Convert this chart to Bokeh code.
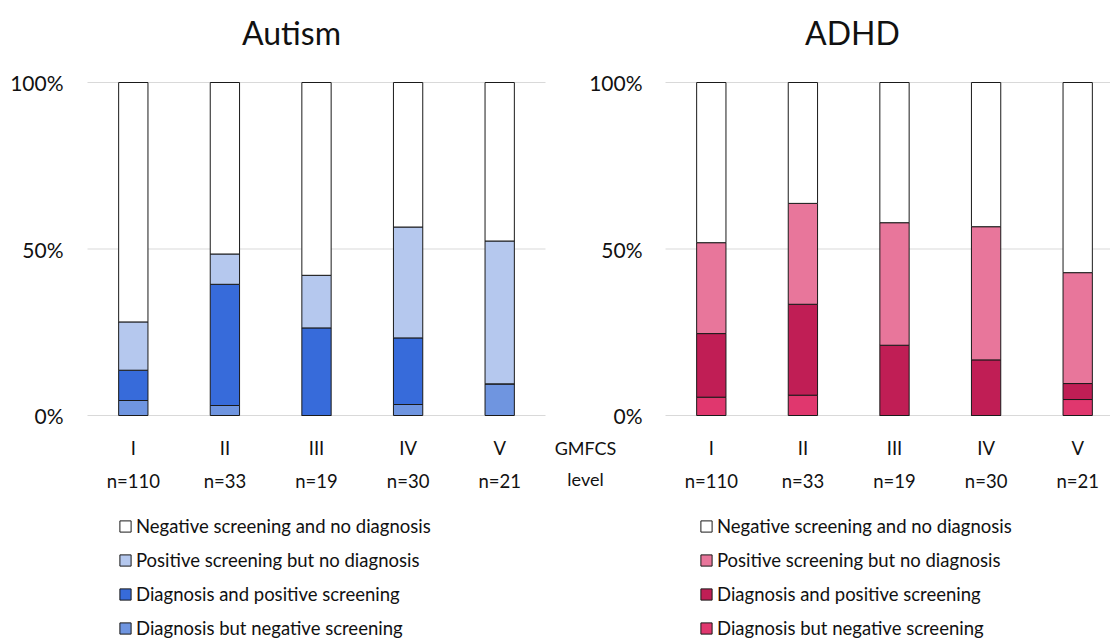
from bokeh.plotting import figure
from bokeh.models import Range1d, Legend, LegendItem, ColumnDataSource
from bokeh.embed import file_html
from bokeh.resources import INLINE
from bokeh.core.properties import value

# ---------------- data ----------------
levels = ["I", "II", "III", "IV", "V"]
n_labels = ["n=110", "n=33", "n=19", "n=30", "n=21"]
panel_titles = ["Autism", "ADHD"]
series_names = ["Negative screening and no diagnosis",
                "Positive screening but no diagnosis",
                "Diagnosis and positive screening",
                "Diagnosis but negative screening"]
y_ticks = [0, 0.5, 1]
y_tick_labels = ["0%", "50%", "100%"]
axis_title = ["GMFCS", "level"]

# percentages per GMFCS level
autism_neg_nodiag = [71.9, 51.5, 57.9, 43.4, 47.6]
autism_pos_nodiag = [14.5, 9.1, 15.8, 33.3, 42.9]
autism_diag_pos = [9.1, 36.4, 26.3, 20.0, 0.0]
autism_diag_neg = [4.5, 3.0, 0.0, 3.3, 9.5]

adhd_neg_nodiag = [48.1, 36.3, 42.1, 43.3, 57.1]
adhd_pos_nodiag = [27.3, 30.3, 36.8, 40.0, 33.3]
adhd_diag_pos = [19.1, 27.3, 21.1, 16.7, 4.8]
adhd_diag_neg = [5.5, 6.1, 0.0, 0.0, 4.8]

autism_colors = ["#FFFFFF", "#B5C8EE", "#376BDA", "#6F95E0"]
adhd_colors = ["#FFFFFF", "#E8769B", "#C01E55", "#E0376E"]

# ---------------- layout constants ----------------
FONT = "Lato"
TXT = "#111111"
W, H = 1110, 641
PX = 91.6          # pixels per category slot
PY = 333.0         # pixels per 100 %
ORIGIN_X = 87      # left panel category 0 from canvas left
ORIGIN_Y = 415     # 0 % line from canvas top
RIGHT_OFFSET = (665 - 87) / PX  # right panel start in slot units

x_start = -ORIGIN_X / PX
y_end = ORIGIN_Y / PY
p = figure(width=W, height=H, output_backend="svg", toolbar_location=None,
           x_range=Range1d(x_start, x_start + W / PX),
           y_range=Range1d(y_end - H / PY, y_end),
           x_axis_type=None, y_axis_type=None,
           min_border=0, min_border_left=0, min_border_right=0,
           min_border_top=0, min_border_bottom=0)
p.outline_line_color = None
p.background_fill_color = "white"
p.border_fill_color = "white"
p.title.visible = False


def panel(offset, neg, pos, dpos, dneg, colors, tick_right_px, legend_left_px):
    xs = [offset + i + 0.5 for i in range(len(levels))]
    # gridlines
    p.segment(x0=[offset] * len(y_ticks), x1=[offset + len(levels)] * len(y_ticks),
              y0=y_ticks, y1=y_ticks, line_color="#D9D9D9", line_width=1)
    src = ColumnDataSource(dict(
        x=xs,
        dneg=[v / 100 for v in dneg],
        dpos=[v / 100 for v in dpos],
        pos=[v / 100 for v in pos],
        neg=[v / 100 for v in neg],
    ))
    rends = p.vbar_stack(["dneg", "dpos", "pos", "neg"], x="x", width=0.32, source=src,
                         fill_color=[colors[3], colors[2], colors[1], colors[0]],
                         line_color="#1A1A1A", line_width=1)
    # y tick labels
    p.text(x=[offset + tick_right_px / PX] * len(y_ticks), y=y_ticks, text=y_tick_labels,
           text_align="right", text_baseline="middle", text_font=value(FONT),
           text_font_size="21px", text_color=TXT)
    # category labels
    p.text(x=xs, y=[-32 / PY] * len(xs), text=levels, text_align="center",
           text_baseline="middle", text_font=value(FONT), text_font_size="18.5px",
           text_color=TXT)
    p.text(x=xs, y=[-65 / PY] * len(xs), text=n_labels, text_align="center",
           text_baseline="middle", text_font=value(FONT), text_font_size="18.5px",
           text_color=TXT)
    items = [LegendItem(label=series_names[i], renderers=[rends[3 - i]]) for i in range(4)]
    leg = Legend(items=items, location=(legend_left_px, 2), orientation="vertical",
                 glyph_width=14, glyph_height=14, label_height=22,
                 label_standoff=4, spacing=12, padding=0, margin=0,
                 border_line_color=None, background_fill_alpha=0,
                 label_text_font=FONT, label_text_font_size="18.5px",
                 label_text_color=TXT)
    p.add_layout(leg, "center")
    return rends


panel(0, autism_neg_nodiag, autism_pos_nodiag, autism_diag_pos, autism_diag_neg,
      autism_colors, -24, 118)
panel(RIGHT_OFFSET, adhd_neg_nodiag, adhd_pos_nodiag, adhd_diag_pos, adhd_diag_neg,
      adhd_colors, -23, 699)

# panel titles
p.text(x=[(291 - 87) / PX, (852 - 87) / PX], y=[(415 - 32) / PY] * 2, text=panel_titles,
       text_align="center", text_baseline="middle", text_font=value(FONT),
       text_font_size="32px", text_color=TXT)
# axis title between panels
p.text(x=[(585 - 87) / PX] * 2, y=[-32 / PY, -63 / PY], text=axis_title,
       text_align="center", text_baseline="middle", text_font=value(FONT),
       text_font_size="18px", text_color=TXT)

open("out.html", "w").write(file_html(p, INLINE))
